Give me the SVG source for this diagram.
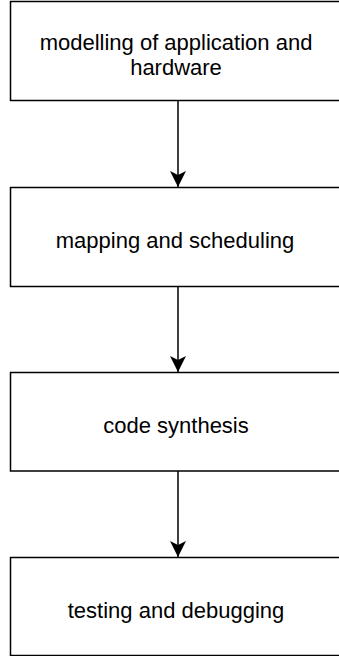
<svg xmlns="http://www.w3.org/2000/svg" width="339" height="656" viewBox="0 0 339 656">
<defs>
<style>
.box{fill:#fff;stroke:#000;stroke-width:1.5}
.lbl{font-family:"Liberation Sans",Arial,sans-serif;font-size:22px;fill:#000;text-anchor:middle}
.conn{stroke:#000;stroke-width:1.5;fill:none}
</style>
<marker id="arr" markerUnits="userSpaceOnUse" markerWidth="18" markerHeight="18" refX="16" refY="8" orient="auto">
<path d="M0,0 L16,8 L0,16 L4,8 Z" fill="#000"/>
</marker>
</defs>
<g id="connectors">
<line class="conn" x1="178" y1="100.5" x2="178" y2="187" marker-end="url(#arr)"/>
<line class="conn" x1="178" y1="286.5" x2="178" y2="372" marker-end="url(#arr)"/>
<line class="conn" x1="178" y1="471" x2="178" y2="557" marker-end="url(#arr)"/>
</g>
<g id="n1">
<rect class="box" x="10.5" y="1.5" width="330" height="99"/>
<text class="lbl" x="176" y="50">modelling of application and</text>
<text class="lbl" x="176" y="75">hardware</text>
</g>
<g id="n2">
<rect class="box" x="10.5" y="187.5" width="330" height="99"/>
<text class="lbl" x="175" y="248">mapping and scheduling</text>
</g>
<g id="n3">
<rect class="box" x="10.5" y="372.5" width="330" height="98.5"/>
<text class="lbl" x="176" y="433">code synthesis</text>
</g>
<g id="n4">
<rect class="box" x="10.5" y="557.5" width="330" height="98"/>
<text class="lbl" x="176" y="618">testing and debugging</text>
</g>
</svg>
